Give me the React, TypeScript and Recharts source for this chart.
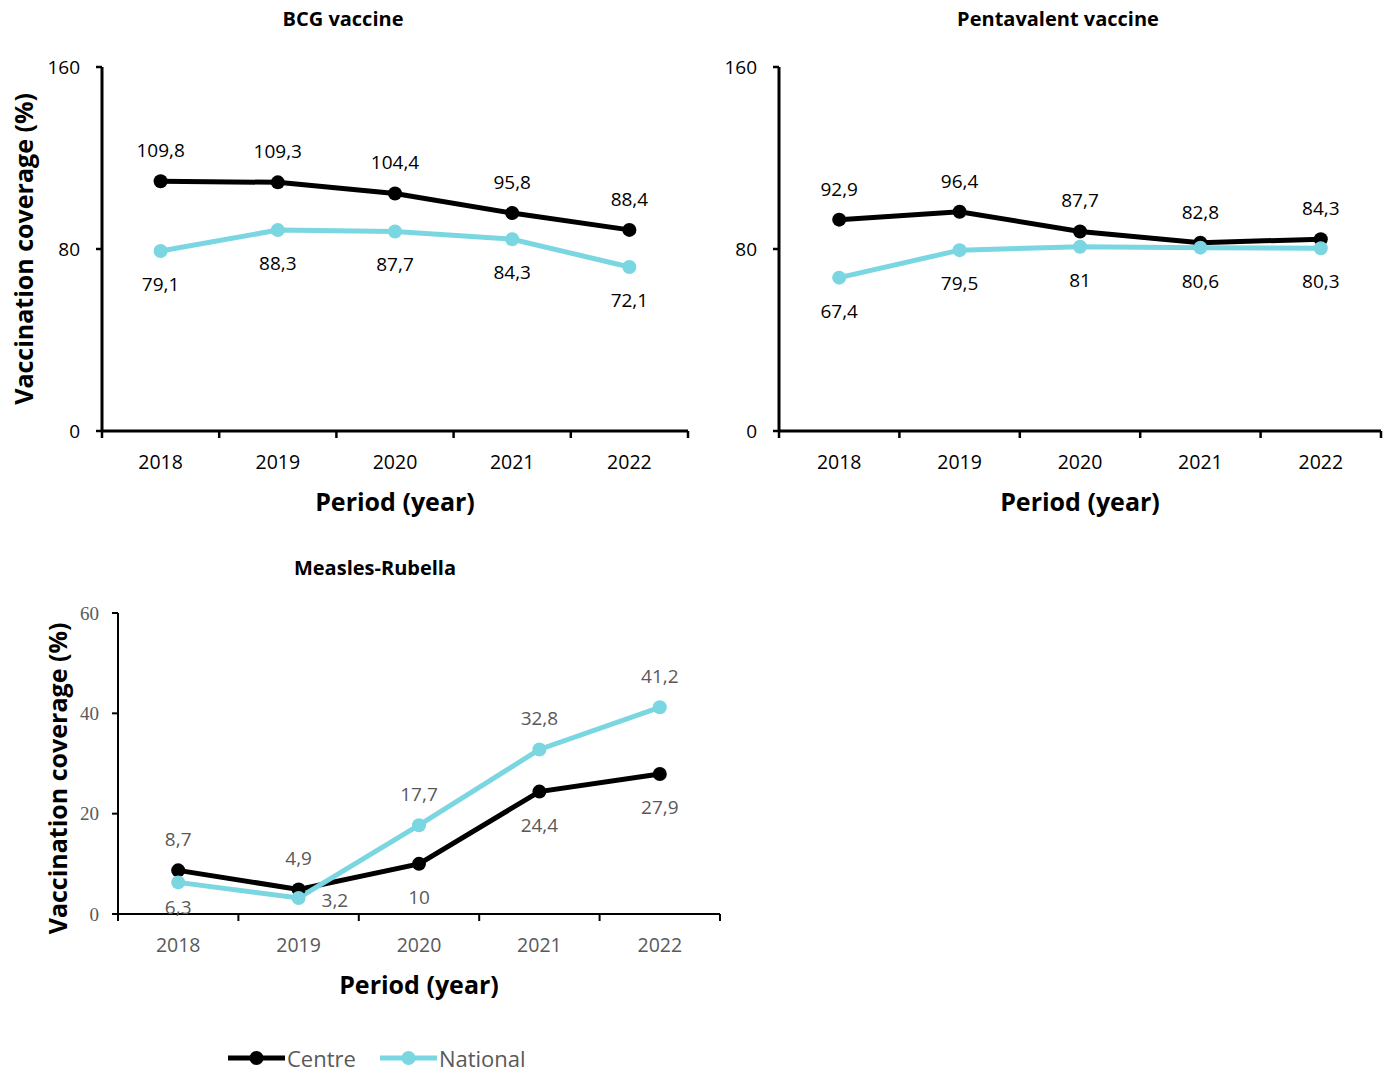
import React from 'react'
import { LineChart, Line, XAxis, YAxis, LabelList, Label, Legend } from 'recharts'

const FONT = '"Open Sans", "Noto Sans", sans-serif'
const BLACK = '#000000'
const CYAN = '#7AD6E0'
const GREY = '#595959'

const years = ['2018', '2019', '2020', '2021', '2022']

// BCG vaccine
const bcgCentre = [109.8, 109.3, 104.4, 95.8, 88.4]
const bcgNational = [79.1, 88.3, 87.7, 84.3, 72.1]

// Pentavalent vaccine
const pentaCentre = [92.9, 96.4, 87.7, 82.8, 84.3]
const pentaNational = [67.4, 79.5, 81, 80.6, 80.3]

// Measles-Rubella
const mrCentre = [8.7, 4.9, 10, 24.4, 27.9]
const mrNational = [6.3, 3.2, 17.7, 32.8, 41.2]

const topTicks = [0, 80, 160]
const mrTicks = [0, 20, 40, 60]

type Placement = 'above' | 'below' | 'near' | 'right'

const allAbove: Placement[] = ['above', 'above', 'above', 'above', 'above']
const allBelow: Placement[] = ['below', 'below', 'below', 'below', 'below']
const mrCentrePlacement: Placement[] = ['above', 'above', 'below', 'below', 'below']
const mrNationalPlacement: Placement[] = ['near', 'right', 'above', 'above', 'above']

const toRows = (centre: number[], national: number[]) =>
  years.map((year, i) => ({ year, centre: centre[i], national: national[i] }))

const fmt = (v: number) => String(v).replace('.', ',')

// data label placed like Excel's above / below / right labels
const pointLabel = (placement: Placement[], color: string) => (props: any) => {
  const x = props.x ?? props.viewBox?.x
  const y = props.y ?? props.viewBox?.y
  const where = placement[props.index] ?? 'above'
  let dx = 0
  let dy = -24
  let anchor: 'middle' | 'start' = 'middle'
  if (where === 'below') dy = 40
  if (where === 'near') dy = 32
  if (where === 'right') {
    dx = 23
    dy = 9
    anchor = 'start'
  }
  return (
    <text x={x + dx} y={y + dy} textAnchor={anchor} fill={color} fontSize={19} fontFamily={FONT}>
      {fmt(props.value)}
    </text>
  )
}

// category label centred in its band, tick marks on the band edges
const bandTick = (band: number, color: string, lineWidth: number) => (props: any) => {
  const { x, y, payload, index } = props
  const edge = x - band / 2
  return (
    <g>
      <line x1={edge} x2={edge} y1={y} y2={y + 7} stroke={BLACK} strokeWidth={lineWidth} />
      {index === years.length - 1 && (
        <line x1={x + band / 2} x2={x + band / 2} y1={y} y2={y + 7} stroke={BLACK} strokeWidth={lineWidth} />
      )}
      <text x={x} y={y + 38} textAnchor="middle" fill={color} fontSize={19.5} fontFamily={FONT}>
        {payload.value}
      </text>
    </g>
  )
}

const xTitle = (props: any) => {
  const { x, y, width } = props.viewBox
  return (
    <text x={x + width / 2} y={y + 80} textAnchor="middle" fill={BLACK} fontSize={25} fontWeight={700} fontFamily={FONT}>
      Period (year)
    </text>
  )
}

const yTitle = (left: number, shift: number) => (props: any) => {
  const { x, y, height } = props.viewBox
  const cx = x + left
  const cy = y + height / 2 + shift
  return (
    <text
      x={cx}
      y={cy}
      transform={`rotate(-90 ${cx} ${cy})`}
      textAnchor="middle"
      fill={BLACK}
      fontSize={25}
      fontWeight={700}
      fontFamily={FONT}
    >
      Vaccination coverage (%)
    </text>
  )
}

const renderLegend = (props: any) => (
  <div style={{ display: 'flex', alignItems: 'center', height: 28, fontFamily: FONT, fontSize: 22, color: GREY }}>
    {(props.payload || []).map((item: any) => (
      <div key={item.value} style={{ display: 'flex', alignItems: 'center', marginRight: 24 }}>
        <svg width={57} height={16}>
          <line x1={0} x2={57} y1={8} y2={8} stroke={item.color} strokeWidth={5} />
          <circle cx={28.5} cy={8} r={7} fill={item.color} />
        </svg>
        <span style={{ marginLeft: 2 }}>{item.value}</span>
      </div>
    ))}
  </div>
)

const titleStyle = (center: number, top: number): React.CSSProperties => ({
  position: 'absolute',
  left: center - 200,
  top,
  width: 400,
  textAlign: 'center',
  fontFamily: FONT,
  fontWeight: 700,
  fontSize: 20,
  lineHeight: '20px',
  color: BLACK,
})

export default function App() {
  const bcgRows = toRows(bcgCentre, bcgNational)
  const pentaRows = toRows(pentaCentre, pentaNational)
  const mrRows = toRows(mrCentre, mrNational)

  const bcgBand = (700 - 102 - 12) / years.length
  const pentaBand = (687 - 79 - 6) / years.length
  const mrBand = (730 - 118 - 10) / years.length

  return (
    <div style={{ position: 'absolute', left: 0, top: 0, width: 1387, height: 1072, background: '#fff' }}>
      <div style={titleStyle(343, 9)}>BCG vaccine</div>
      <div style={titleStyle(1058, 9)}>Pentavalent vaccine</div>
      <div style={titleStyle(375, 558)}>Measles-Rubella</div>

      <div style={{ position: 'absolute', left: 0, top: 0 }}>
        <LineChart width={700} height={530} data={bcgRows} margin={{ top: 67, right: 12, bottom: 0, left: 0 }}>
          <XAxis
            dataKey="year"
            scale="band"
            interval={0}
            height={99}
            tickSize={0}
            tickMargin={0}
            tickLine={false}
            axisLine={{ stroke: BLACK, strokeWidth: 3 }}
            tick={bandTick(bcgBand, BLACK, 2.5)}
          >
            <Label content={xTitle} />
          </XAxis>
          <YAxis
            width={102}
            domain={[0, 160]}
            ticks={topTicks}
            interval={0}
            tickSize={6}
            tickMargin={16}
            axisLine={{ stroke: BLACK, strokeWidth: 3 }}
            tickLine={{ stroke: BLACK, strokeWidth: 2.5 }}
            tick={{ fill: BLACK, fontSize: 19, fontFamily: FONT }}
          >
            <Label content={yTitle(33, 0)} />
          </YAxis>
          <Line
            dataKey="centre"
            name="Centre"
            stroke={BLACK}
            strokeWidth={5}
            dot={{ r: 7, fill: BLACK, stroke: 'none' }}
            activeDot={false}
            isAnimationActive={false}
          >
            <LabelList dataKey="centre" content={pointLabel(allAbove, BLACK)} />
          </Line>
          <Line
            dataKey="national"
            name="National"
            stroke={CYAN}
            strokeWidth={5}
            dot={{ r: 7, fill: CYAN, stroke: 'none' }}
            activeDot={false}
            isAnimationActive={false}
          >
            <LabelList dataKey="national" content={pointLabel(allBelow, BLACK)} />
          </Line>
        </LineChart>
      </div>

      <div style={{ position: 'absolute', left: 700, top: 0 }}>
        <LineChart width={687} height={530} data={pentaRows} margin={{ top: 67, right: 6, bottom: 0, left: 0 }}>
          <XAxis
            dataKey="year"
            scale="band"
            interval={0}
            height={99}
            tickSize={0}
            tickMargin={0}
            tickLine={false}
            axisLine={{ stroke: BLACK, strokeWidth: 3 }}
            tick={bandTick(pentaBand, BLACK, 2.5)}
          >
            <Label content={xTitle} />
          </XAxis>
          <YAxis
            width={79}
            domain={[0, 160]}
            ticks={topTicks}
            interval={0}
            tickSize={6}
            tickMargin={16}
            axisLine={{ stroke: BLACK, strokeWidth: 3 }}
            tickLine={{ stroke: BLACK, strokeWidth: 2.5 }}
            tick={{ fill: BLACK, fontSize: 19, fontFamily: FONT }}
          />
          <Line
            dataKey="centre"
            name="Centre"
            stroke={BLACK}
            strokeWidth={5}
            dot={{ r: 7, fill: BLACK, stroke: 'none' }}
            activeDot={false}
            isAnimationActive={false}
          >
            <LabelList dataKey="centre" content={pointLabel(allAbove, BLACK)} />
          </Line>
          <Line
            dataKey="national"
            name="National"
            stroke={CYAN}
            strokeWidth={5}
            dot={{ r: 7, fill: CYAN, stroke: 'none' }}
            activeDot={false}
            isAnimationActive={false}
          >
            <LabelList dataKey="national" content={pointLabel(allBelow, BLACK)} />
          </Line>
        </LineChart>
      </div>

      <div style={{ position: 'absolute', left: 0, top: 540 }}>
        <LineChart width={730} height={532} data={mrRows} margin={{ top: 73, right: 10, bottom: 0, left: 0 }}>
          <XAxis
            dataKey="year"
            scale="band"
            interval={0}
            height={130}
            tickSize={0}
            tickMargin={0}
            tickLine={false}
            axisLine={{ stroke: BLACK, strokeWidth: 2 }}
            tick={bandTick(mrBand, GREY, 2)}
          >
            <Label content={xTitle} />
          </XAxis>
          <YAxis
            width={118}
            domain={[0, 60]}
            ticks={mrTicks}
            interval={0}
            tickSize={6}
            tickMargin={13}
            axisLine={{ stroke: BLACK, strokeWidth: 2 }}
            tickLine={{ stroke: BLACK, strokeWidth: 2 }}
            tick={{ fill: GREY, fontSize: 19, fontFamily: '"Liberation Serif", serif' }}
          >
            <Label content={yTitle(67, 15)} />
          </YAxis>
          <Legend
            verticalAlign="bottom"
            align="left"
            content={renderLegend}
            wrapperStyle={{ left: 228, width: 340 }}
          />
          <Line
            dataKey="centre"
            name="Centre"
            stroke={BLACK}
            strokeWidth={5}
            dot={{ r: 7, fill: BLACK, stroke: 'none' }}
            activeDot={false}
            isAnimationActive={false}
          >
            <LabelList dataKey="centre" content={pointLabel(mrCentrePlacement, GREY)} />
          </Line>
          <Line
            dataKey="national"
            name="National"
            stroke={CYAN}
            strokeWidth={5}
            dot={{ r: 7, fill: CYAN, stroke: 'none' }}
            activeDot={false}
            isAnimationActive={false}
          >
            <LabelList dataKey="national" content={pointLabel(mrNationalPlacement, GREY)} />
          </Line>
        </LineChart>
      </div>
    </div>
  )
}
